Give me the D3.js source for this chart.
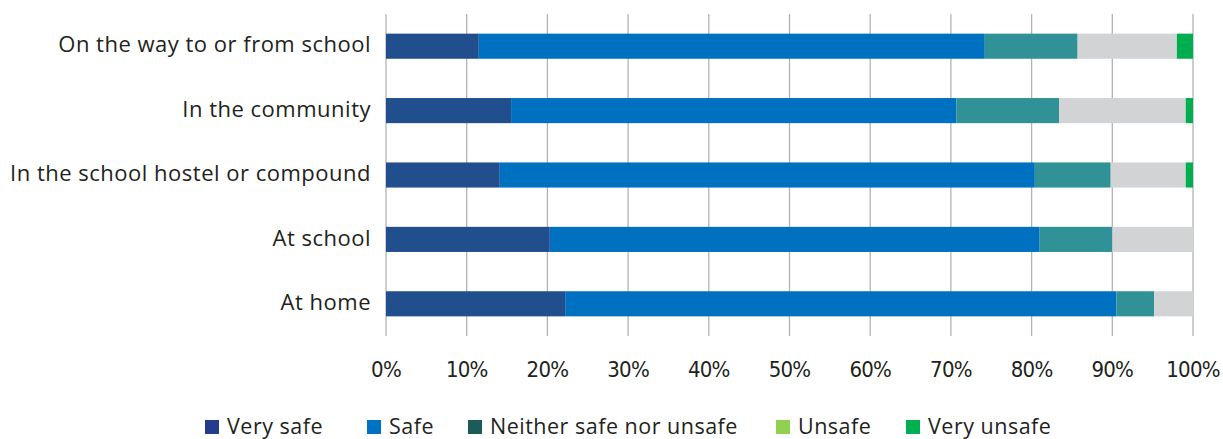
<!DOCTYPE html>
<html>
<head>
<meta charset="utf-8">
<script src="https://cdn.jsdelivr.net/npm/d3@7"></script>
<style>
  html, body { margin: 0; padding: 0; background: #fff; }
  svg { display: block; }
</style>
</head>
<body>
<svg id="chart" width="1223" height="439"></svg>
<script>
const categories = ["On the way to or from school", "In the community", "In the school hostel or compound", "At school", "At home"];
const seriesNames = ["Very safe", "Safe", "Neither safe nor unsafe", "Unsafe", "Very unsafe"];
const verySafe   = [11.5, 15.5, 14.1, 20.3, 22.2];
const safe       = [62.7, 55.2, 66.3, 60.7, 68.3];
const neither    = [11.5, 12.7,  9.4,  9.0,  4.7];
const unsafe     = [12.3, 15.7,  9.3, 10.0,  4.8];
const veryUnsafe = [ 2.0,  0.9,  0.9,  0.0,  0.0];
const tickValues = [0, 10, 20, 30, 40, 50, 60, 70, 80, 90, 100];

const barColors    = ["#214e8d", "#0071c1", "#309297", "#d2d3d5", "#00ad4f"];
const legendColors = ["#253b8d", "#0072c6", "#1d5b5b", "#92d050", "#00b050"];

const rows = categories.map((c, i) => ({
  cat: c,
  "Very safe": verySafe[i], "Safe": safe[i], "Neither safe nor unsafe": neither[i],
  "Unsafe": unsafe[i], "Very unsafe": veryUnsafe[i]
}));
const stacked = d3.stack().keys(seriesNames)(rows);

const svg = d3.select("#chart");
const plotL = 386, plotR = 1193, plotT = 14, plotB = 336;

const x = d3.scaleLinear().domain([0, 100]).range([plotL, plotR]);
const y = d3.scaleBand().domain(categories).range([plotT, plotB]).paddingInner(0.61).paddingOuter(0.305);

// gridlines
svg.append("g").selectAll("line").data(tickValues).join("line")
  .attr("x1", d => x(d)).attr("x2", d => x(d))
  .attr("y1", plotT).attr("y2", plotB)
  .attr("stroke", "#b3b3b3").attr("stroke-width", 1.3);

// bars
svg.append("g").selectAll("g").data(stacked).join("g")
  .attr("fill", (d, i) => barColors[i])
  .selectAll("rect").data(d => d).join("rect")
  .attr("x", d => x(d[0]))
  .attr("width", d => Math.max(0, x(d[1]) - x(d[0])))
  .attr("y", d => y(d.data.cat))
  .attr("height", y.bandwidth());

// category labels
svg.append("g").selectAll("text").data(categories).join("text")
  .attr("x", 371)
  .attr("y", d => y(d) + y.bandwidth() / 2)
  .attr("dy", "0.28em")
  .attr("text-anchor", "end")
  .attr("font-family", "'Open Sans', Lato, sans-serif")
  .attr("font-size", 22)
  .attr("letter-spacing", 0.5)
  .attr("fill", "#231f20")
  .text(d => d);

// x tick labels
svg.append("g").selectAll("text").data(tickValues).join("text")
  .attr("x", d => x(d))
  .attr("y", 377)
  .attr("text-anchor", "middle")
  .attr("font-family", "'DejaVu Sans Condensed', 'DejaVu Sans', sans-serif")
  .attr("font-stretch", "condensed")
  .attr("font-size", 22)
  .attr("letter-spacing", -0.8)
  .attr("fill", "#231f20")
  .text(d => d + "%");

// legend
const legendX = [205, 367, 468, 776, 906];
const lg = svg.append("g").selectAll("g").data(seriesNames).join("g")
  .attr("transform", (d, i) => `translate(${legendX[i]},0)`);
lg.append("rect").attr("x", 0).attr("y", 420).attr("width", 14).attr("height", 14)
  .attr("fill", (d, i) => legendColors[i]);
lg.append("text").attr("x", 22).attr("y", 434)
  .attr("font-family", "'Open Sans', Lato, sans-serif")
  .attr("font-size", 21.5)
  .attr("letter-spacing", 0.5)
  .attr("fill", "#231f20")
  .text(d => d);
</script>
</body>
</html>
